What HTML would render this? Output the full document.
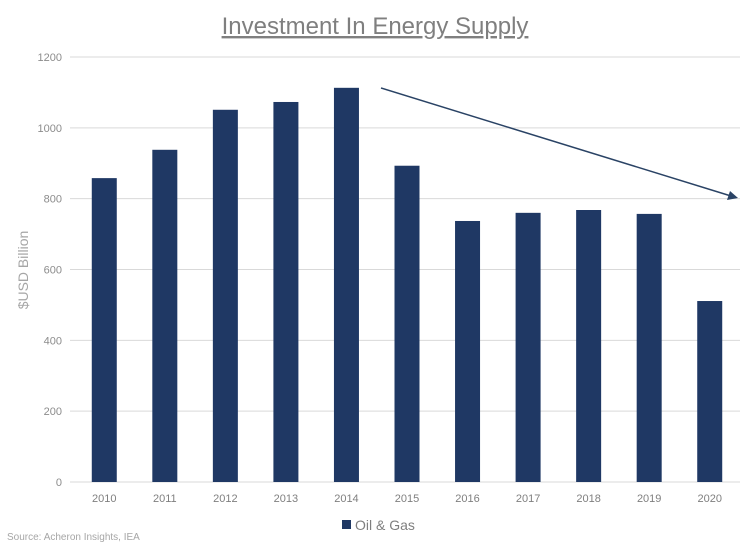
<!DOCTYPE html>
<html><head><meta charset="utf-8"><style>
body{margin:0;background:#fff;font-family:"Liberation Sans Narrow","Liberation Sans",sans-serif;}
svg text{font-family:"Liberation Sans Narrow","Liberation Sans",sans-serif;}
</style></head><body>
<svg id="chart" width="750" height="546" xmlns="http://www.w3.org/2000/svg">
<text x="375" y="34" text-anchor="middle" font-size="24" fill="#7f7f7f" text-decoration="underline">Investment In Energy Supply</text>
<g id="grid"></g>
<g id="bars"></g>
<g id="xl"></g>
<text transform="translate(28,270) rotate(-90)" text-anchor="middle" font-size="14" fill="#a6a6a6">$USD Billion</text>
<line x1="381" y1="88" x2="731" y2="196" stroke="#2a4365" stroke-width="1.5"/>
<polygon points="738,198 727,200 730,191" fill="#2a4365"/>
<rect x="342" y="520" width="9" height="9" fill="#1f3864"/>
<text x="355" y="530" font-size="14" fill="#7f7f7f">Oil &amp; Gas</text>
<text x="7" y="540" font-size="10" fill="#a6a6a6">Source: Acheron Insights, IEA</text>
</svg>
<script>
const categories=["2010","2011","2012","2013","2014","2015","2016","2017","2018","2019","2020"];
const values=[858,938,1051,1073,1113,893,737,760,768,757,511];
const yTicks=[0,200,400,600,800,1000,1200];
const NS="http://www.w3.org/2000/svg";
const x0=74,x1=740,yBase=482,yTop=57,yMax=1200;
const band=(x1-x0)/categories.length;
function xc(i){return x0+band*(i+0.5);}
function yv(v){return yBase-(v/yMax)*(yBase-yTop);}
function mk(t,a,p){const e=document.createElementNS(NS,t);for(const k in a)e.setAttribute(k,a[k]);p.appendChild(e);return e;}
const g=document.getElementById('grid');
yTicks.forEach(t=>{
  const l=mk('line',{x1:x0-4,x2:x1,y1:yv(t),y2:yv(t),stroke:'#d9d9d9','stroke-width':1},g);
  
  
  const tx=mk('text',{x:62,y:yv(t)+4,'text-anchor':'end','font-size':11,fill:'#8c8c8c'},g);
  tx.textContent=t;
  
  
});
const b=document.getElementById('bars'),xl=document.getElementById('xl');
categories.forEach((c,i)=>{
  const r=mk('rect',{x:xc(i)-12.5,y:yv(values[i]),width:25,height:yBase-yv(values[i]),fill:'#1f3864'},b);
  
  
  const t=mk('text',{x:xc(i),y:502,'text-anchor':'middle','font-size':11,fill:'#7f7f7f'},xl);
  t.textContent=c;
  
  
});
</script>
</body></html>
